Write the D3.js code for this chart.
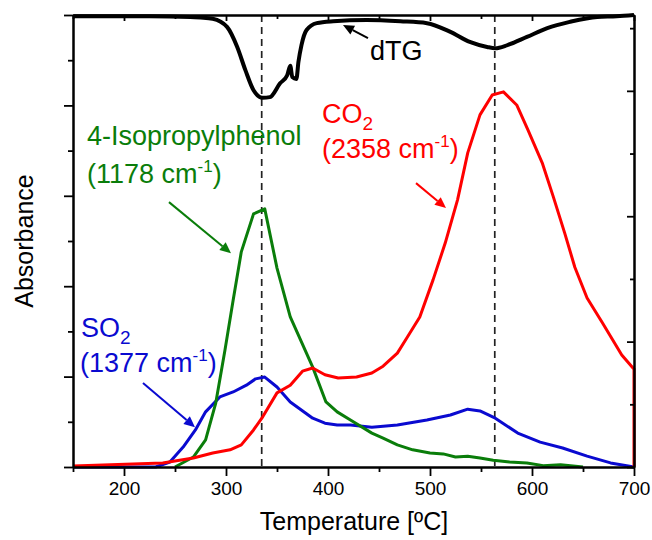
<!DOCTYPE html>
<html>
<head>
<meta charset="utf-8">
<script src="https://cdn.jsdelivr.net/npm/d3@7"></script>
<style>
  body { margin: 0; background: #fff; }
  text { font-family: "Liberation Sans", Arial, sans-serif; }
</style>
</head>
<body>
<svg width="652" height="540"></svg>
<script>
// CO2 (2358 cm-1)
const co2Temp = [150,238,268,287,304,315,327,336,350,363,375,385,397,410,428,443,454,468,478,490,503,515,527,537,549,561,572,585,596,610,621,632,642,654,669,688,699,700,700];
const co2Abs  = [0.02,0.09,0.2,0.31,0.38,0.49,0.82,1.11,1.64,1.81,2.12,2.19,2.04,1.97,1.99,2.08,2.23,2.52,2.88,3.32,4.14,4.96,5.91,6.95,7.79,8.23,8.30,8.01,7.46,6.73,5.97,5.18,4.42,3.74,3.19,2.48,2.19,2.17,0];

// 4-Isopropylphenol (1178 cm-1)
const phenolTemp = [250,268,280,290,299,307,315,327,338,350,363,385,398,409,422,443,454,468,483,500,513,525,537,549,562,578,595,611,628,650];
const phenolAbs  = [0,0.22,0.6,1.42,2.59,3.69,4.76,5.6,5.71,4.4,3.32,2.21,1.44,1.22,1.04,0.75,0.64,0.49,0.38,0.31,0.29,0.22,0.24,0.2,0.15,0.11,0.09,0.03,0.05,0];

// SO2 (1377 cm-1)
const so2Temp = [150,231,245,258,270,280,294,307,320,329,338,350,363,385,397,409,422,443,468,497,520,537,549,564,586,608,630,654,677,700];
const so2Abs  = [0,0,0.11,0.44,0.82,1.22,1.55,1.66,1.81,1.95,1.99,1.77,1.44,1.08,0.97,0.93,0.93,0.88,0.93,1.04,1.15,1.28,1.24,1.08,0.75,0.55,0.42,0.24,0.09,0];

// dTG, right axis
const dtgTemp = [150,225,265,275,287,301,311,319,327,336,343,353,360,363,365,369,371,374,379,389,405,438,471,497,520,539,556,564,576,595,615,637,664,683,700];
const dtgVal  = [7.19,7.19,7.18,7.17,7.15,7.02,6.70,6.33,6.01,5.89,5.90,6.12,6.25,6.40,6.22,6.19,6.46,6.73,6.97,7.08,7.11,7.13,7.11,7.08,6.94,6.78,6.70,6.68,6.73,6.86,7.00,7.10,7.18,7.19,7.21];

// peak temperatures marked with dashed lines
const peakTemps = [335, 563.5];

const xMajor = [200,300,400,500,600,700];
const xMinor = [150,250,350,450,550,650];

const svg = d3.select("svg");

const x = d3.scaleLinear().domain([150, 700]).range([73, 634]);
const y = d3.scaleLinear().domain([0, 10]).range([467, 15]);
const yR = d3.scaleLinear().domain([0, 7.21]).range([467, 15]);

// dashed peak lines
svg.selectAll(".peak")
  .data(peakTemps)
  .join("line")
  .attr("x1", d => x(d)).attr("x2", d => x(d))
  .attr("y1", y(10)).attr("y2", y(0))
  .attr("stroke", "#222")
  .attr("stroke-width", 1.7)
  .attr("stroke-dasharray", "7,5");

// series
const series = [
  {t: so2Temp, v: so2Abs, color: "#0a0ad0"},
  {t: phenolTemp, v: phenolAbs, color: "#0a7d0a"},
  {t: co2Temp, v: co2Abs, color: "#ff0000"}
];

const line = d3.line().x(d => x(d[0])).y(d => y(d[1]));

series.forEach(s => {
  svg.append("path")
    .datum(d3.zip(s.t, s.v))
    .attr("d", line)
    .attr("fill", "none")
    .attr("stroke", s.color)
    .attr("stroke-width", 3)
    .attr("stroke-linejoin", "round");
});

const dtgLine = d3.line().x(d => x(d[0])).y(d => yR(d[1])).curve(d3.curveMonotoneX);
svg.append("path")
  .datum(d3.zip(dtgTemp, dtgVal))
  .attr("d", dtgLine)
  .attr("fill", "none")
  .attr("stroke", "#000")
  .attr("stroke-width", 4)
  .attr("stroke-linejoin", "round");

// axes
const bottomMajor = svg.append("g").attr("transform", `translate(0,${y(0)})`)
  .call(d3.axisBottom(x).tickValues(xMajor).tickSize(9).tickSizeOuter(0).tickPadding(6).tickFormat(d3.format("d")));
svg.append("g").attr("transform", `translate(0,${y(0)})`)
  .call(d3.axisBottom(x).tickValues(xMinor).tickSize(5).tickSizeOuter(0).tickFormat(""));
svg.append("g").attr("transform", `translate(0,${y(10)})`)
  .call(d3.axisBottom(x).tickValues(xMajor).tickSize(6).tickSizeOuter(0).tickFormat(""));
svg.append("g").attr("transform", `translate(0,${y(10)})`)
  .call(d3.axisBottom(x).tickValues(xMinor).tickSize(4).tickSizeOuter(0).tickFormat(""));

svg.append("g").attr("transform", `translate(${x(150)},0)`)
  .call(d3.axisLeft(y).tickValues([0,2,4,6,8,10]).tickSize(9).tickSizeOuter(0).tickFormat(""));
svg.append("g").attr("transform", `translate(${x(150)},0)`)
  .call(d3.axisLeft(y).tickValues([1,3,5,7,9]).tickSize(5).tickSizeOuter(0).tickFormat(""));

svg.append("g").attr("transform", `translate(${x(700)},0)`)
  .call(d3.axisLeft(yR).tickValues([0,2,4,6]).tickSize(7).tickSizeOuter(0).tickFormat(""));
svg.append("g").attr("transform", `translate(${x(700)},0)`)
  .call(d3.axisLeft(yR).tickValues([1,3,5,7]).tickSize(4).tickSizeOuter(0).tickFormat(""));

svg.selectAll(".domain").attr("stroke", "#000").attr("stroke-width", 2);
svg.selectAll(".tick line").attr("stroke", "#000").attr("stroke-width", 1.8);
bottomMajor.selectAll("text")
  .attr("font-size", 19).attr("fill", "#000")
  .style("font-family", '"Liberation Sans", Arial, sans-serif');

// axis titles
svg.append("text")
  .attr("x", 354).attr("y", 530)
  .attr("text-anchor", "middle")
  .attr("font-size", 25)
  .text("Temperature [ºC]");

svg.append("text")
  .attr("transform", "translate(33,241) rotate(-90)")
  .attr("text-anchor", "middle")
  .attr("font-size", 25)
  .text("Absorbance");

// labels
function label(t, v, color, main, sub, sup) {
  const txt = svg.append("text")
    .attr("x", x(t)).attr("y", y(v))
    .attr("font-size", 27)
    .attr("fill", color)
    .text(main);
  if (sub) txt.append("tspan").attr("font-size", 19).attr("dy", 7).text(sub);
  if (sup) {
    txt.append("tspan").attr("font-size", 17).attr("dy", -11).text(sup);
    txt.append("tspan").attr("dy", 11).text(")");
  }
}
label(163.7, 7.12, "#0a7d0a", "4-Isopropylphenol");
label(163.7, 6.28, "#0a7d0a", "(1178 cm", null, "-1");
label(157.8, 2.88, "#0a0ad0", "SO", "2");
label(156.9, 2.10, "#0a0ad0", "(1377 cm", null, "-1");
label(394.1, 7.61, "#ff0000", "CO", "2");
label(394.1, 6.84, "#ff0000", "(2358 cm", null, "-1");

svg.append("text")
  .attr("x", x(441.2)).attr("y", yR((467 - 60) / 62.7))
  .attr("font-size", 27)
  .text("dTG");

// arrows
function arrow(x1, y1, x2, y2, color) {
  const ang = Math.atan2(y2 - y1, x2 - x1);
  const len = 11, half = 5;
  const bx = x2 - len * Math.cos(ang), by = y2 - len * Math.sin(ang);
  svg.append("line")
    .attr("x1", x1).attr("y1", y1).attr("x2", bx).attr("y2", by)
    .attr("stroke", color).attr("stroke-width", 2);
  const px = -Math.sin(ang) * half, py = Math.cos(ang) * half;
  svg.append("path")
    .attr("d", `M${x2},${y2}L${bx + px},${by + py}L${bx - px},${by - py}Z`)
    .attr("fill", color);
}
arrow(x(244.1), y(5.86), x(304.9), y(4.73), "#0a7d0a");
arrow(x(218.6), y(1.86), x(269.6), y(0.88), "#0a0ad0");
arrow(x(486.3), y(6.28), x(515.7), y(5.73), "#ff0000");
arrow(x(439.2), yR(6.84), x(414.7), yR(7.05), "#000");
</script>
</body>
</html>
